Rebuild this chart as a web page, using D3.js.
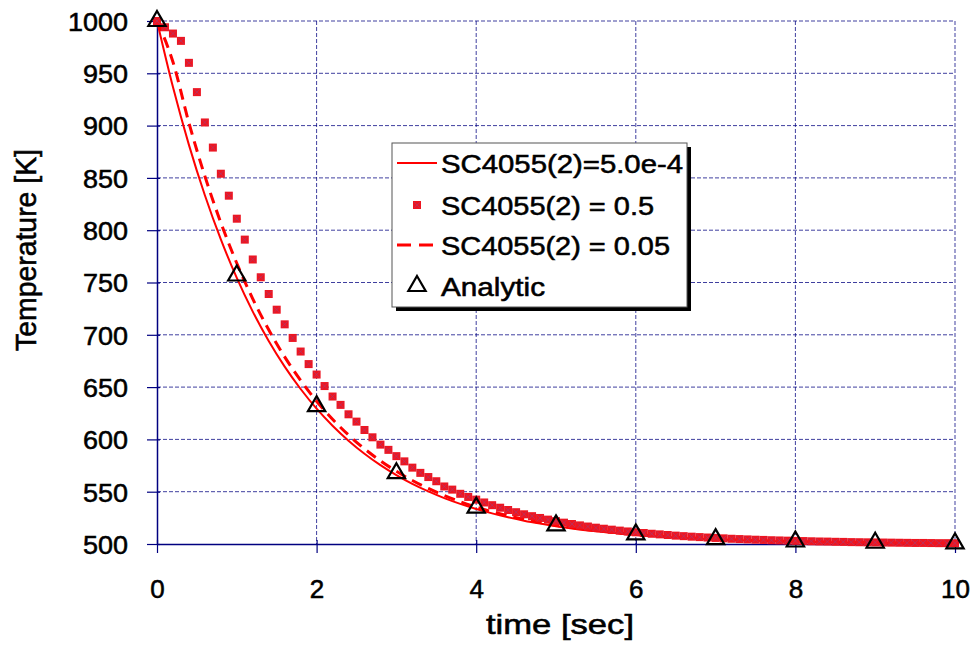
<!DOCTYPE html>
<html><head><meta charset="utf-8">
<script src="https://cdn.jsdelivr.net/npm/d3@7/dist/d3.min.js"></script>
<style>body{margin:0;background:#fff}svg{display:block}text{font-family:"Liberation Sans",Arial,sans-serif;fill:#000;stroke:#000;stroke-width:0.55px}</style>
</head><body><svg id="c" width="972" height="646"></svg>
<script>
// ---------- data ----------
const xTicks = [0, 2, 4, 6, 8, 10];
const yTicks = [500, 550, 600, 650, 700, 750, 800, 850, 900, 950, 1000];

// solid and dashed lines share this time grid
const lineTime = [0,0.2,0.4,0.6,0.8,1,1.2,1.4,1.6,1.8,2,2.2,2.4,2.6,2.8,3,3.2,3.4,3.6,3.8,4,4.2,4.4,4.6,4.8,5,5.2,5.4,5.6,5.8,6,6.2,6.4,6.6,6.8,7,7.2,7.4,7.6,7.8,8,8.2,8.4,8.6,8.8,9,9.2,9.4,9.6,9.8,10];
const solidVals = [1000,936.8,881.6,833.4,791.2,754.4,722.2,694.1,669.6,648.2,629.4,613.1,598.8,586.3,575.4,565.9,557.5,550.3,543.9,538.4,533.5,529.3,525.6,522.3,519.5,517.0,514.9,513.0,511.4,509.9,508.7,507.6,506.6,505.8,505.1,504.4,503.9,503.4,502.9,502.6,502.2,502.0,501.7,501.5,501.3,501.1,501.0,500.9,500.8,500.7,500.6];
const dashedVals = [1000,960.8,902.6,851.7,807.2,768.4,734.4,704.8,678.9,656.4,636.5,619.3,604.2,591.0,579.5,569.5,560.7,553.1,546.3,540.5,535.3,530.9,527.0,523.5,520.6,517.9,515.7,513.7,512.0,510.4,509.2,508.0,507.0,506.1,505.4,504.6,504.1,503.6,503.1,502.7,502.3,502.1,501.8,501.6,501.4,501.2,501.1,500.9,500.8,500.7,500.6];

// square markers, every 0.1 s
const sqTime = [0,0.1,0.2,0.3,0.4,0.5,0.6,0.7,0.8,0.9,1,1.1,1.2,1.3,1.4,1.5,1.6,1.7,1.8,1.9,2,2.1,2.2,2.3,2.4,2.5,2.6,2.7,2.8,2.9,3,3.1,3.2,3.3,3.4,3.5,3.6,3.7,3.8,3.9,4,4.1,4.2,4.3,4.4,4.5,4.6,4.7,4.8,4.9,5,5.1,5.2,5.3,5.4,5.5,5.6,5.7,5.8,5.9,6,6.1,6.2,6.3,6.4,6.5,6.6,6.7,6.8,6.9,7,7.1,7.2,7.3,7.4,7.5,7.6,7.7,7.8,7.9,8,8.1,8.2,8.3,8.4,8.5,8.6,8.7,8.8,8.9,9,9.1,9.2,9.3,9.4,9.5,9.6,9.7,9.8,9.9,10];
const sqVals = [1000,994,988,981,960,932,903,879,854,833,811,791,772,755,739,724,710,697,684,672,662,651,641,633,624,617,609,602,595,590,584,579,573,568,564,560,555,552,548,545,542.4,539.7,537.1,534.7,532.5,530.4,528.4,526.6,524.9,523.3,521.8,520.4,519.1,517.8,516.7,515.6,514.6,513.7,512.8,512.0,511.2,510.5,509.8,509.2,508.6,508.0,507.5,507.0,506.6,506.2,505.8,505.4,505.0,504.7,504.4,504.1,503.9,503.6,503.4,503.2,503.0,502.8,502.6,502.4,502.3,502.1,502.0,501.8,501.7,501.6,501.5,501.4,501.3,501.2,501.1,501.0,501.0,500.9,500.8,500.8,500.7];

const anTime = [0,1,2,3,4,5,6,7,8,9,10];
const anVals = [1000,756.7,631.8,567.7,534.8,517.8,509.2,504.7,502.4,501.2,500.6];

const legendLabels = ["SC4055(2)=5.0e-4", "SC4055(2) = 0.5", "SC4055(2) = 0.05", "Analytic"];

// ---------- chart ----------
const svg = d3.select("#c");
const L = 157, R = 955, T = 21, B = 544;
const x = d3.scaleLinear().domain([0, 10]).range([L, R]);
const y = d3.scaleLinear().domain([500, 1000]).range([B, T]);
const navy = "#000080", red = "#ff0000";

// grid
svg.append("g").selectAll("line").data(yTicks.filter(d => d > 500)).join("line")
  .attr("x1", L).attr("x2", R).attr("y1", d => y(d)).attr("y2", d => y(d))
  .attr("stroke", navy).attr("stroke-width", 1).attr("stroke-dasharray", "4,2").attr("opacity", 0.75);
svg.append("g").selectAll("line").data(xTicks.filter(d => d > 0)).join("line")
  .attr("y1", T).attr("y2", B).attr("x1", d => x(d)).attr("x2", d => x(d))
  .attr("stroke", navy).attr("stroke-width", 1).attr("stroke-dasharray", "4,2").attr("opacity", 0.75);

// axes
const yAxis = svg.append("g").attr("transform", `translate(${L},0)`)
  .call(d3.axisLeft(y).tickValues(yTicks).tickFormat(d3.format("d")).tickSizeInner(10).tickSizeOuter(0).tickPadding(19));
yAxis.select(".domain").attr("stroke", navy).attr("stroke-width", 1.5);
yAxis.selectAll(".tick line").attr("stroke", navy).attr("stroke-width", 1.2).attr("x1", 3);
yAxis.selectAll(".tick text").attr("font-size", 26).attr("fill", "#000").attr("font-family", null)
  .attr("textLength", d => String(d).length * 15).attr("lengthAdjust", "spacingAndGlyphs").attr("dy", "0.36em");

const xAxis = svg.append("g").attr("transform", `translate(0,${B})`)
  .call(d3.axisBottom(x).tickValues(xTicks).tickSizeInner(9).tickSizeOuter(0).tickPadding(27));
xAxis.select(".domain").attr("stroke", navy).attr("stroke-width", 1.5);
xAxis.selectAll(".tick line").attr("stroke", navy).attr("stroke-width", 1.2).attr("y1", -4);
xAxis.selectAll(".tick text").attr("font-size", 26).attr("fill", "#000").attr("font-family", null);

// axis titles
svg.append("text").attr("x", 560).attr("y", 634).attr("text-anchor", "middle")
  .attr("font-size", 28).attr("textLength", 148).attr("lengthAdjust", "spacingAndGlyphs").text("time [sec]");
svg.append("text").attr("transform", "translate(36,250) rotate(-90)").attr("text-anchor", "middle")
  .attr("font-size", 29).attr("textLength", 202).attr("lengthAdjust", "spacingAndGlyphs").text("Temperature [K]");

// series
const line = (ts, vs) => d3.line().x((d, i) => x(ts[i])).y(d => y(d)).curve(d3.curveMonotoneX)(vs);
svg.append("path").attr("d", line(lineTime, solidVals)).attr("fill", "none").attr("stroke", red).attr("stroke-width", 2);
svg.append("path").attr("d", line(lineTime, dashedVals)).attr("fill", "none").attr("stroke", red)
  .attr("stroke-width", 3).attr("stroke-dasharray", "11,7");

const sq = svg.append("g").selectAll("g").data(sqVals).join("g")
  .attr("transform", (d, i) => `translate(${x(sqTime[i])},${y(d)})`);
sq.append("rect").attr("x", -4).attr("y", -4).attr("width", 8).attr("height", 8).attr("fill", "#ee1520");
sq.append("path").attr("d", "M-3,-3L3,3M-3,3L3,-3").attr("stroke", "#6a5ab8").attr("stroke-width", 0.6).attr("opacity", 0.6);

const tri = d3.symbol().type(d3.symbolTriangle).size(130);
svg.append("g").selectAll("path").data(anVals).join("path")
  .attr("transform", (d, i) => `translate(${x(anTime[i])},${y(d)})`)
  .attr("d", tri).attr("fill", "none").attr("stroke", "#000").attr("stroke-width", 2.2);

// legend
const lg = svg.append("g");
const lx = 392, ly = 143, lw = 295, lh = 164;
lg.append("rect").attr("x", lx + 4).attr("y", ly + 4).attr("width", lw).attr("height", lh).attr("fill", "#000");
lg.append("rect").attr("x", lx).attr("y", ly).attr("width", lw).attr("height", lh).attr("fill", "#fff")
  .attr("stroke", "#555").attr("stroke-width", 1);
const rowY = [163, 205, 245, 286];
const textW = [242, 213, 229, 104];
legendLabels.forEach((lab, i) => {
  lg.append("text").attr("x", 441).attr("y", rowY[i] + 9.5).attr("font-size", 26)
    .attr("textLength", textW[i]).attr("lengthAdjust", "spacingAndGlyphs").text(lab);
});
lg.append("line").attr("x1", 397).attr("x2", 437).attr("y1", rowY[0]).attr("y2", rowY[0]).attr("stroke", red).attr("stroke-width", 2);
lg.append("line").attr("x1", 397).attr("x2", 437).attr("y1", rowY[2]).attr("y2", rowY[2]).attr("stroke", red)
  .attr("stroke-width", 3).attr("stroke-dasharray", "14,8");
const lsq = lg.append("g").attr("transform", `translate(417,${rowY[1]})`);
lsq.append("rect").attr("x", -4).attr("y", -4).attr("width", 8).attr("height", 8).attr("fill", "#ee1520");
lsq.append("path").attr("d", "M-3,-3L3,3M-3,3L3,-3").attr("stroke", "#6a5ab8").attr("stroke-width", 0.6).attr("opacity", 0.6);
lg.append("path").attr("transform", `translate(417,${rowY[3]})`).attr("d", tri)
  .attr("fill", "none").attr("stroke", "#000").attr("stroke-width", 2.2);
</script></body></html>
